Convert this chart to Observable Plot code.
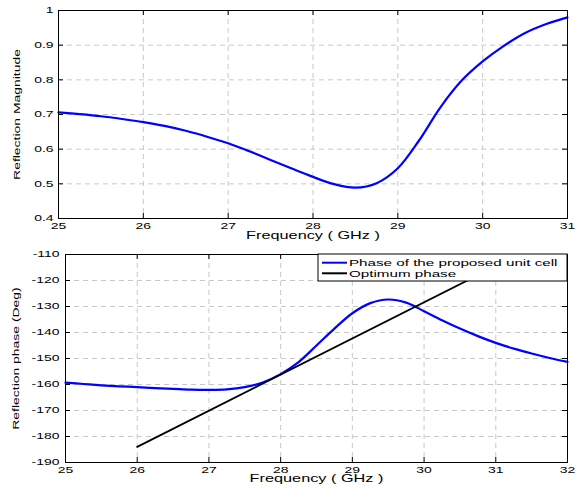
<!DOCTYPE html>
<html><head><meta charset="utf-8">
<script src="https://cdn.jsdelivr.net/npm/d3@7"></script>
<script src="https://cdn.jsdelivr.net/npm/@observablehq/plot@0.6"></script>
<style>
html,body{margin:0;padding:0;background:#fff;}
#chart{width:576px;}
#chart svg{display:block;}
</style></head><body><div id="chart"></div>
<script>
// ---- data ----
const magFreq = [25,25.25,25.5,25.75,26,26.25,26.5,26.75,27,27.25,27.5,27.75,28,28.25,28.5,28.75,29,29.25,29.5,29.75,30,30.25,30.5,30.75,31];
const magValues = [0.706,0.701,0.695,0.687,0.678,0.667,0.653,0.636,0.617,0.594,0.569,0.544,0.520,0.499,0.489,0.502,0.545,0.625,0.720,0.797,0.853,0.898,0.935,0.961,0.980];
const phaseFreq = [25,25.25,25.5,25.75,26,26.25,26.5,26.75,27,27.25,27.5,27.75,28,28.25,28.5,28.75,29,29.25,29.5,29.75,30,30.25,30.5,30.75,31,31.25,31.5,31.75,32];
const phaseValues = [-159.3,-159.8,-160.3,-160.7,-161.0,-161.4,-161.7,-162.0,-162.1,-161.9,-161.0,-159.2,-156.0,-151.4,-145.0,-138.5,-132.6,-128.7,-127.3,-128.5,-131.8,-135.3,-138.5,-141.4,-144.0,-146.2,-148.1,-149.8,-151.3];
const optFreq = [26, 31.3];
const optPhase = [-184, -110.3];
const magXTicks = [25,26,27,28,29,30,31];
const magYTicks = [0.4,0.5,0.6,0.7,0.8,0.9,1];
const phaseXTicks = [25,26,27,28,29,30,31,32];
const phaseYTicks = [-190,-180,-170,-160,-150,-140,-130,-120,-110];
const legendLabels = ["Phase of the proposed unit cell", "Optimum phase"];
const seriesColors = ["#0000ff", "#000000"];
const xTitle = "Frequency ( GHz )";
const magTitle = "Reflection Magnitude";
const phaseTitle = "Reflection phase (Deg)";

const FONT = '"Liberation Sans", Arial, Helvetica, sans-serif';
const GRID = {stroke: "#c8c8c8", strokeDasharray: "5,4", strokeWidth: 1};

function insideTicks(xT, yT, xD, yD) {
  const s = {stroke: "black", strokeWidth: 1};
  return [
    Plot.ruleX(xT, {y1: yD[0], y2: yD[0], insetTop: -5, ...s}),
    Plot.ruleX(xT, {y1: yD[1], y2: yD[1], insetBottom: -5, ...s}),
    Plot.ruleY(yT, {x1: xD[0], x2: xD[0], insetRight: -5, ...s}),
    Plot.ruleY(yT, {x1: xD[1], x2: xD[1], insetLeft: -5, ...s})
  ];
}

function stretch(svg) {
  svg.querySelectorAll("text").forEach(t => {
    const g = t.closest("g[aria-label]");
    const lab = g ? g.getAttribute("aria-label") : "";
    let sc = "scale(1.55,1)";
    if (lab === "ylabel") sc = "scale(1.2,1.6)";
    else if (lab === "xlabel") sc = "scale(1.7,1)";
    else if (lab === "legend") return;
    t.setAttribute("transform", ((t.getAttribute("transform") || "") + " " + sc).trim());
  });
}

const chart = document.getElementById("chart");

// ---- top panel ----
const magXD = [25, 31], magYD = [0.4, 1];
const magData = magFreq.map((f, i) => ({f, v: magValues[i]}));
const topPlot = Plot.plot({
  width: 576, height: 243,
  marginLeft: 58, marginRight: 9, marginTop: 10, marginBottom: 25,
  style: {fontFamily: FONT, fontSize: "9px", color: "black", background: "white"},
  x: {domain: magXD, ticks: magXTicks, tickFormat: d => String(d), tickSize: 0, tickPadding: 4, label: null},
  y: {domain: magYD, ticks: magYTicks, tickFormat: d => String(d), tickSize: 0, tickPadding: 5, label: null},
  marks: [
    Plot.ruleX(magXTicks, GRID),
    Plot.ruleY(magYTicks, GRID),
    Plot.line(magData, {x: "f", y: "v", stroke: seriesColors[0], strokeWidth: 2.2, curve: "catmull-rom"}),
    ...insideTicks(magXTicks, magYTicks, magXD, magYD),
    Plot.frame({stroke: "black"}),
    Plot.text([xTitle], {frameAnchor: "bottom", lineAnchor: "middle", textAnchor: "middle", dy: 17.5, fontSize: 10.5, ariaLabel: "xlabel"}),
    Plot.text([magTitle], {frameAnchor: "left", textAnchor: "middle", lineAnchor: "middle", rotate: -90, dx: -41, fontSize: 9, ariaLabel: "ylabel"})
  ]
});
chart.appendChild(topPlot);
stretch(topPlot);

// ---- bottom panel ----
const phXD = [25, 32], phYD = [-190, -110];
const phaseData = phaseFreq.map((f, i) => ({f, v: phaseValues[i]}));
const optData = optFreq.map((f, i) => ({f, v: optPhase[i]}));
const bm = {left: 65, right: 9, top: 11, bottom: 25};
const bottomPlot = Plot.plot({
  width: 576, height: 244,
  marginLeft: bm.left, marginRight: bm.right, marginTop: bm.top, marginBottom: bm.bottom,
  style: {fontFamily: FONT, fontSize: "9px", color: "black", background: "white"},
  x: {domain: phXD, ticks: phaseXTicks, tickFormat: d => String(d), tickSize: 0, tickPadding: 4, label: null},
  y: {domain: phYD, ticks: phaseYTicks, tickFormat: d => String(d), tickSize: 0, tickPadding: 6, label: null},
  marks: [
    Plot.ruleX(phaseXTicks, GRID),
    Plot.ruleY(phaseYTicks, GRID),
    Plot.line(phaseData, {x: "f", y: "v", stroke: seriesColors[0], strokeWidth: 2.2, curve: "catmull-rom"}),
    Plot.line(optData, {x: "f", y: "v", stroke: seriesColors[1], strokeWidth: 1.8, clip: true}),
    ...insideTicks(phaseXTicks, phaseYTicks, phXD, phYD),
    Plot.frame({stroke: "black"}),
    Plot.text([xTitle], {frameAnchor: "bottom", lineAnchor: "middle", textAnchor: "middle", dy: 16.5, fontSize: 10.5, ariaLabel: "xlabel"}),
    Plot.text([phaseTitle], {frameAnchor: "left", textAnchor: "middle", lineAnchor: "middle", rotate: -90, dx: -49, fontSize: 9, ariaLabel: "ylabel"})
  ]
});
chart.appendChild(bottomPlot);
stretch(bottomPlot);

// ---- legend (top-right, inside the frame) ----
(function () {
  const W = 249, H = 27;
  const right = 576 - bm.right, topY = bm.top;
  const g = d3.select(bottomPlot).append("g").attr("aria-label", "legend").attr("text-anchor", "start");
  g.append("rect").attr("x", right - W).attr("y", topY).attr("width", W).attr("height", H)
    .attr("fill", "white").attr("stroke", "black").attr("stroke-width", 1);
  legendLabels.forEach((lab, i) => {
    const cy = topY + 8.7 + i * 10.6;
    g.append("line").attr("x1", right - W + 4).attr("x2", right - W + 29).attr("y1", cy).attr("y2", cy)
      .attr("stroke", seriesColors[i]).attr("stroke-width", 2);
    g.append("text").attr("transform", `translate(${right - W + 31},${cy}) scale(1.6,1)`)
      .attr("text-anchor", "start")
      .attr("dy", "0.35em").attr("font-size", 9.5).attr("fill", "black").attr("font-family", FONT)
      .text(lab);
  });
})();
</script></body></html>
